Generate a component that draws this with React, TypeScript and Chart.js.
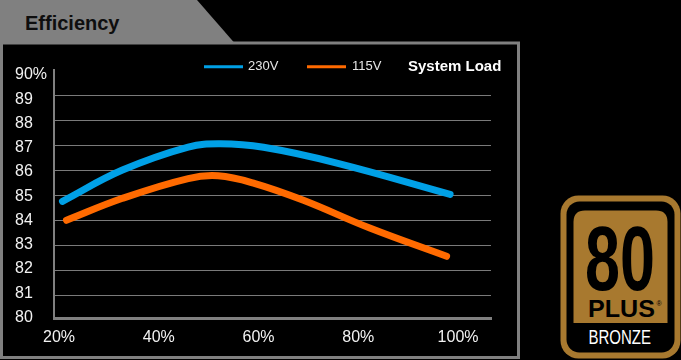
import React, { useEffect, useRef } from "react";
import { Chart, registerables } from "chart.js";

Chart.register(...registerables);

// ---- data ----
const TITLE = "Efficiency";
const AXIS_TITLE = "System Load";
const SERIES_LABELS = ["230V", "115V"];
const LOAD_TICKS = [20, 40, 60, 80, 100];
const EFF_TICKS = [80, 81, 82, 83, 84, 85, 86, 87, 88, 89, 90];
const GRID_VALUES = [81, 82, 83, 84, 85, 86, 87, 88, 89];

const LOAD_230V = [20.7, 32.6, 45.9, 52.3, 61.0, 75.7, 98.4];
const EFF_230V = [84.76, 86.0, 86.93, 87.06, 86.92, 86.29, 85.04];

const LOAD_115V = [21.5, 32.6, 45.9, 51.9, 59.3, 69.0, 82.3, 97.7];
const EFF_115V = [84.0, 84.87, 85.67, 85.78, 85.47, 84.8, 83.69, 82.56];

const BADGE_NUMBER = "80";
const BADGE_PLUS = "PLUS";
const BADGE_LEVEL = "BRONZE";

// ---- styles ----
const FONT = '"Liberation Sans", Arial, Helvetica, sans-serif';
const BLUE = "#00a0e6";
const ORANGE = "#ff6a00";
const GREY = "#808080";
const GRID = "#7a7a7a";
const BRONZE = "#a8792f";
const TEXT = "#f2f2f2";

const legendPlugin = {
  id: "seriesLegend",
  afterDraw(chart: any) {
    const ctx = chart.ctx;
    const slots = [
      { lineX: 204, textX: 248 },
      { lineX: 307, textX: 352 },
    ];
    const y = 66.7;
    chart.data.datasets.forEach((ds: any, i: number) => {
      const s = slots[i];
      if (!s) return;
      ctx.save();
      ctx.strokeStyle = ds.borderColor;
      ctx.lineWidth = 3;
      ctx.lineCap = "butt";
      ctx.beginPath();
      ctx.moveTo(s.lineX, y);
      ctx.lineTo(s.lineX + 39, y);
      ctx.stroke();
      ctx.fillStyle = "#e6e6e6";
      ctx.font = `13px ${FONT}`;
      ctx.textBaseline = "middle";
      ctx.textAlign = "left";
      ctx.fillText(ds.label, s.textX, y);
      ctx.restore();
    });
    ctx.save();
    ctx.fillStyle = "#ffffff";
    ctx.font = `bold 15px ${FONT}`;
    ctx.textBaseline = "middle";
    ctx.textAlign = "left";
    ctx.fillText(AXIS_TITLE, 408, y);
    ctx.restore();
  },
};

export default function App() {
  const ref = useRef<HTMLCanvasElement | null>(null);

  useEffect(() => {
    document.body.style.margin = "0";
    document.body.style.background = "#000";
    const canvas = ref.current;
    if (!canvas) return;
    const lineStyle = {
      borderWidth: 7,
      borderCapStyle: "round",
      borderJoinStyle: "round",
      pointRadius: 0,
      tension: 0.4,
      fill: false,
    };
    const chart = new Chart(canvas, {
      type: "line",
      data: {
        datasets: [
          {
            label: SERIES_LABELS[0],
            data: LOAD_230V.map((x, i) => ({ x, y: EFF_230V[i] })),
            borderColor: BLUE,
            backgroundColor: BLUE,
            ...lineStyle,
          },
          {
            label: SERIES_LABELS[1],
            data: LOAD_115V.map((x, i) => ({ x, y: EFF_115V[i] })),
            borderColor: ORANGE,
            backgroundColor: ORANGE,
            ...lineStyle,
          },
        ],
      },
      options: {
        responsive: false,
        maintainAspectRatio: false,
        animation: false,
        devicePixelRatio: 1,
        layout: { padding: { left: 15, top: 70, right: 190, bottom: 0 } },
        plugins: {
          legend: { display: false },
          tooltip: { enabled: false },
          title: { display: false },
        },
        scales: {
          x: {
            type: "linear",
            min: 19,
            max: 106.6,
            afterBuildTicks: (s: any) => {
              s.ticks = LOAD_TICKS.map((v) => ({ value: v }));
            },
            afterFit: (s: any) => {
              s.height = 42;
            },
            grid: { display: false, drawTicks: false },
            border: { display: true, color: GREY, width: 3 },
            ticks: {
              color: TEXT,
              font: { size: 16, family: FONT },
              padding: 10,
              autoSkip: false,
              maxRotation: 0,
              callback: (v: any) => `${v}%`,
            },
          },
          y: {
            type: "linear",
            position: "left",
            weight: 0,
            min: 80.092,
            max: 90.012,
            afterBuildTicks: (s: any) => {
              s.ticks = GRID_VALUES.map((v) => ({ value: v }));
            },
            afterFit: (s: any) => {
              s.width = 0;
            },
            grid: { display: true, color: GRID, lineWidth: 1, drawTicks: false },
            border: { display: true, color: GREY, width: 2 },
            ticks: { display: false },
          },
          yl: {
            type: "linear",
            position: "left",
            weight: 1,
            min: 79.979,
            max: 90.206,
            afterBuildTicks: (s: any) => {
              s.ticks = EFF_TICKS.map((v) => ({ value: v }));
            },
            afterFit: (s: any) => {
              s.width = 39;
            },
            grid: { display: false, drawTicks: false },
            border: { display: false },
            ticks: {
              color: TEXT,
              font: { size: 16, family: FONT },
              crossAlign: "far",
              padding: 0,
              autoSkip: false,
              callback: (v: any) => (v === 90 ? "90%" : String(v)),
            },
          },
        },
      } as any,
      plugins: [legendPlugin],
    });
    return () => chart.destroy();
  }, []);

  return (
    <div
      style={{
        position: "fixed",
        left: 0,
        top: 0,
        width: 681,
        height: 360,
        background: "#000",
        overflow: "hidden",
      }}
    >
      <svg
        width={681}
        height={360}
        style={{ position: "absolute", left: 0, top: 0 }}
      >
        <polygon points="0,0 197,0 234.5,43 0,43" fill={GREY} />
        <rect x={1.5} y={43} width={517} height={314.5} fill="none" stroke={GREY} strokeWidth={3} />
        <text x={25} y={30} fontFamily={FONT} fontWeight="bold" fontSize={20} fill="#0e0e0e">
          {TITLE}
        </text>

        {/* 80 PLUS badge */}
        <rect x={560.5} y={195.5} width={120} height={163} rx={18} fill={BRONZE} />
        <rect x={566.5} y={201.5} width={108} height={151} rx={13} fill="#000" />
        <path
          d="M573.5,222 Q573.5,210.5 585,210.5 L656,210.5 Q667.5,210.5 667.5,222 L667.5,323 L573.5,323 Z"
          fill={BRONZE}
        />
        <text
          x={585}
          y={290}
          fontFamily={FONT}
          fontWeight="bold"
          fontSize={91}
          fill="#000"
          textLength={70}
          lengthAdjust="spacingAndGlyphs"
        >
          {BADGE_NUMBER}
        </text>
        <text
          x={588}
          y={316.5}
          fontFamily={FONT}
          fontWeight="900"
          fontSize={23}
          fill="#000"
          textLength={67}
          lengthAdjust="spacingAndGlyphs"
        >
          {BADGE_PLUS}
        </text>
        <text x={656.5} y={306} fontFamily={FONT} fontSize={7} fill="#000">
          ®
        </text>
        <text
          x={588.5}
          y={344.3}
          fontFamily={FONT}
          fontSize={20}
          fill="#ffffff"
          textLength={62.5}
          lengthAdjust="spacingAndGlyphs"
        >
          {BADGE_LEVEL}
        </text>
      </svg>
      <canvas
        ref={ref}
        width={681}
        height={360}
        style={{ position: "absolute", left: 0, top: 0, width: 681, height: 360 }}
      />
    </div>
  );
}
